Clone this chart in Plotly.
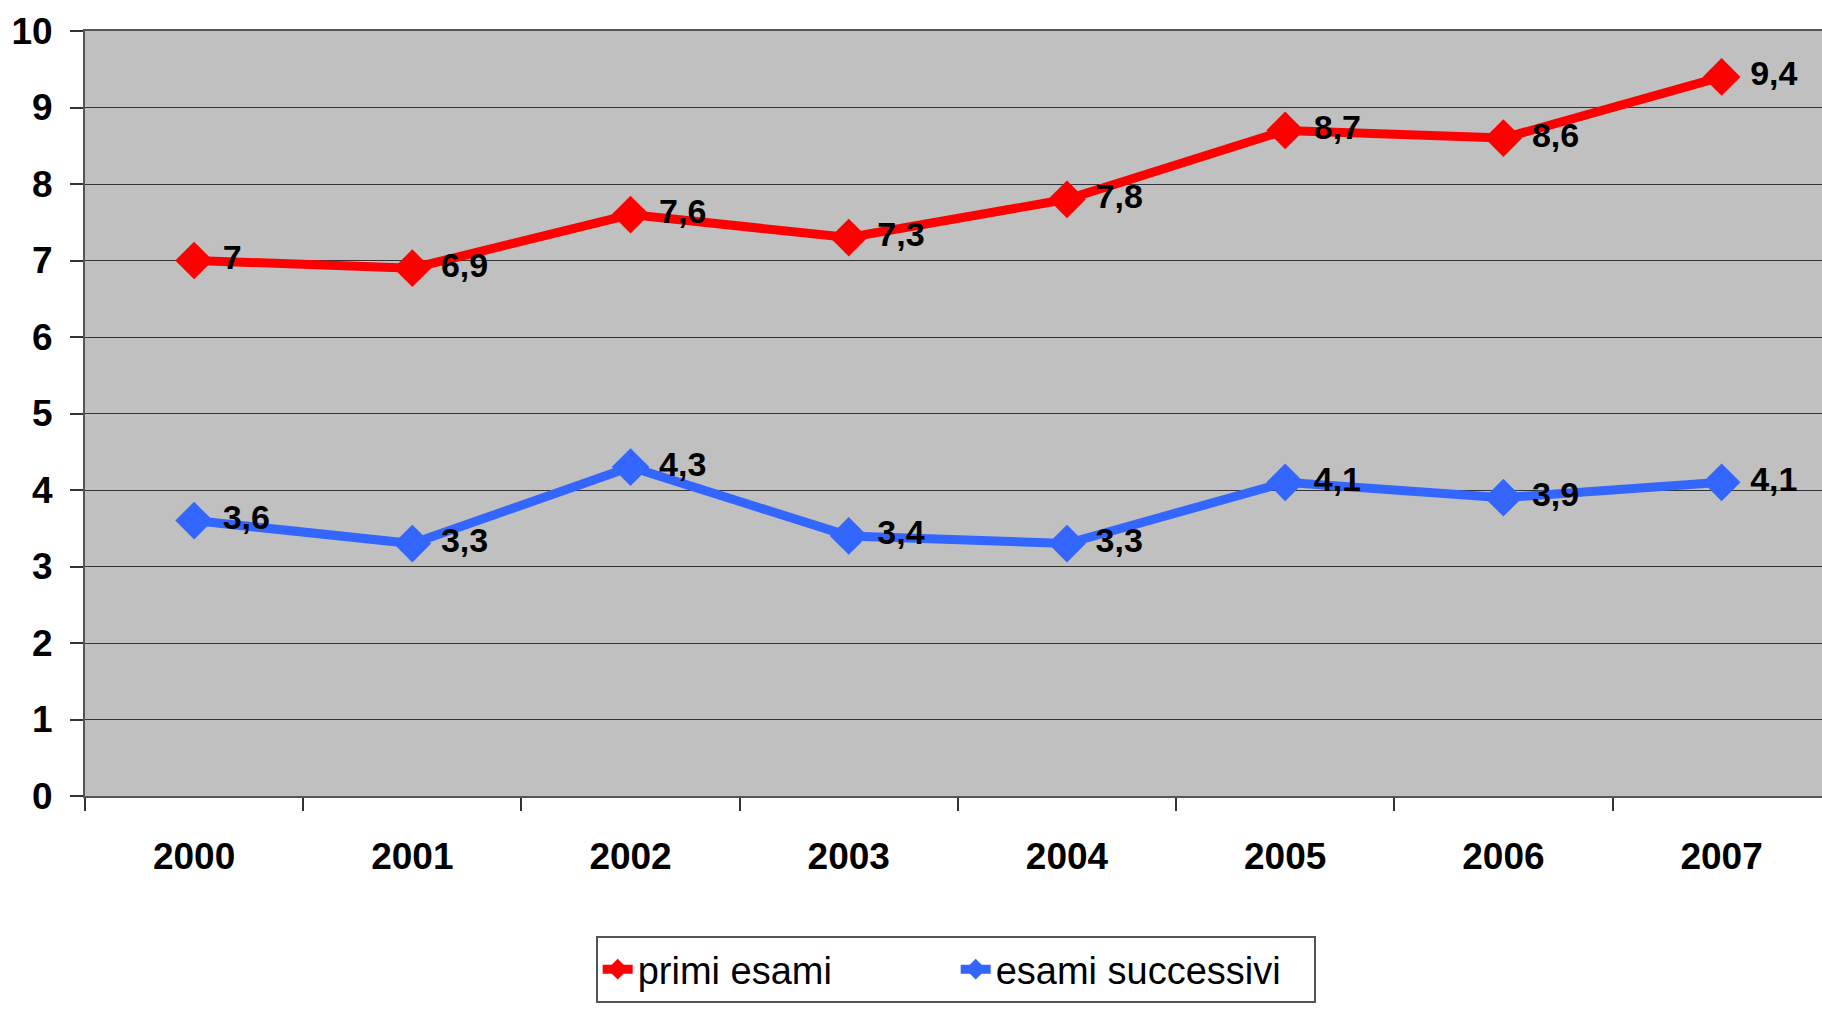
import plotly.graph_objects as go

years = ["2000", "2001", "2002", "2003", "2004", "2005", "2006", "2007"]
primi_esami = [7, 6.9, 7.6, 7.3, 7.8, 8.7, 8.6, 9.4]
esami_successivi = [3.6, 3.3, 4.3, 3.4, 3.3, 4.1, 3.9, 4.1]
y_ticks = list(range(0, 11))

FONT = "Liberation Sans, Arial"

fig = go.Figure()
fig.add_trace(go.Scatter(
    x=years, y=primi_esami, name="primi esami", mode="lines+markers+text",
    line=dict(color="#FF0000", width=9),
    marker=dict(symbol="diamond", size=29, color="#FF0000"),
    texttemplate="\u00a0%{y}", textposition="middle right",
    textfont=dict(family=FONT, size=34, color="black", weight="bold"),
))
fig.add_trace(go.Scatter(
    x=years, y=esami_successivi, name="esami successivi", mode="lines+markers+text",
    line=dict(color="#3366FF", width=9),
    marker=dict(symbol="diamond", size=29, color="#3366FF"),
    texttemplate="\u00a0%{y}", textposition="middle right",
    textfont=dict(family=FONT, size=34, color="black", weight="bold"),
))

fig.update_layout(
    width=1822, height=1009,
    margin=dict(l=85, r=0, t=31, b=213, autoexpand=False),
    paper_bgcolor="white", plot_bgcolor="#C0C0C0",
    separators=",.",
    font=dict(family=FONT, color="black"),
    showlegend=True,
    legend=dict(
        orientation="h", x=0.294, y=-0.183, xanchor="left", yanchor="top",
        bordercolor="#555555", borderwidth=2, bgcolor="white",
        font=dict(family=FONT, size=38, color="black"),
        entrywidth=313, entrywidthmode="pixels",
    ),
)
fig.update_xaxes(
    type="category", range=[-0.5, 7.46], automargin=False,
    tickson="boundaries", ticks="outside", ticklen=13, tickwidth=2, tickcolor="#333333",
    showline=True, linecolor="#555555", linewidth=2, mirror=True,
    showgrid=False,
    tickfont=dict(family=FONT, size=37, color="black", weight="bold"),
    ticklabelstandoff=27,
)
fig.update_yaxes(
    range=[0, 10], tickvals=y_ticks, automargin=False,
    ticks="outside", ticklen=13, tickwidth=2, tickcolor="#333333",
    showline=True, linecolor="#555555", linewidth=2, mirror=True,
    showgrid=True, gridcolor="#333333", gridwidth=1,
    zeroline=False,
    tickfont=dict(family=FONT, size=37, color="black", weight="bold"),
    ticklabelstandoff=10,
)

fig.write_html(
    "out.html",
    config={"displayModeBar": False},
    post_script="document.body.style.margin='0';document.body.style.overflow='hidden';",
)
